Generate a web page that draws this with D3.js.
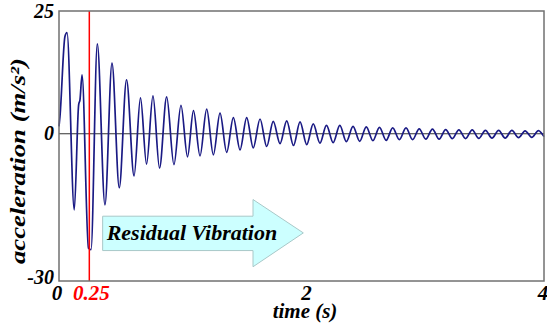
<!DOCTYPE html>
<html>
<head>
<meta charset="utf-8">
<script src="https://cdn.jsdelivr.net/npm/d3@7"></script>
<style>
  body { margin: 0; background: #fff; }
</style>
</head>
<body>
<svg id="chart" width="547" height="325"></svg>
<script>
// peaks and troughs (time in s, acceleration in m/s^2)
var timeS = [0.000, 0.008, 0.049, 0.066, 0.126, 0.162, 0.173, 0.190, 0.243, 0.264,
  0.316, 0.379, 0.437, 0.497, 0.557, 0.619, 0.672, 0.722, 0.775, 0.829,
  0.888, 0.948, 1.006, 1.060, 1.109, 1.163, 1.218, 1.273, 1.328, 1.383,
  1.438, 1.493, 1.548, 1.602, 1.658, 1.713, 1.767, 1.823, 1.878, 1.934,
  1.988, 2.043, 2.097, 2.152, 2.206, 2.261, 2.316, 2.370, 2.425, 2.480,
  2.534, 2.589, 2.643, 2.698, 2.752, 2.807, 2.862, 2.916, 2.971, 3.025,
  3.080, 3.135, 3.189, 3.244, 3.298, 3.353, 3.408, 3.462, 3.517, 3.571,
  3.626, 3.680, 3.735, 3.790, 3.844, 3.899, 3.954, 4.000];
var accel = [1.5, 3.5, 19.8, 20.6, -15.5, 5.9, 6.9, 12.0, -23.3, -23.6,
  18.3, -14.5, 14.4, -11.0, 11.0, -8.6, 7.3, -6.2, 7.7, -7.0,
  7.5, -6.3, 5.8, -4.7, 4.7, -4.5, 5.0, -4.3, 4.2, -3.8,
  3.3, -3.3, 3.3, -2.9, 3.0, -2.6, 2.5, -2.0, 2.6, -2.4,
  2.4, -2.2, 2.0, -1.9, 1.7, -1.8, 1.7, -1.6, 1.5, -1.55,
  1.4, -1.4, 1.3, -1.35, 1.2, -1.2, 1.2, -1.2, 1.0, -1.1,
  0.95, -1.1, 0.85, -1.0, 0.8, -1.0, 0.8, -0.95, 0.7, -0.9,
  0.7, -0.9, 0.7, -0.8, 0.6, -0.75, 0.65, -0.6];

var xTicks = [0, 2, 4];
var yTicks = [25, 0, -30];
var markTime = 0.25;
// arrow outline in data units: [time, accel]
var arrowPts = [[0.36, -16.8], [1.60, -16.8], [1.60, -13.4], [2.015, -20.2],
  [1.60, -27.1], [1.60, -23.8], [0.36, -23.8]];

var FONT = "Liberation Serif";
var svg = d3.select("#chart");
var pLeft = 59, pRight = 544, pTop = 11, pBottom = 281;

var x = d3.scaleLinear().domain([0, 4]).range([pLeft, pRight]);
var y = d3.scaleLinear().domain([-30, 25]).range([pBottom, pTop]);

function label(sel, size) {
  return sel.attr("font-family", FONT)
    .attr("font-weight", "bold")
    .attr("font-style", "italic")
    .attr("font-size", size);
}

svg.append("rect").attr("width", 547).attr("height", 325).attr("fill", "#fff");

// zero line
svg.append("line")
  .attr("x1", pLeft).attr("x2", pRight)
  .attr("y1", y(0)).attr("y2", y(0))
  .attr("stroke", "#333").attr("stroke-width", 1.2);

// signal
var line = d3.line()
  .x(function(d, i) { return x(timeS[i]); })
  .y(function(d) { return y(d); })
  .curve(d3.curveMonotoneX);

svg.append("path")
  .datum(accel)
  .attr("d", line)
  .attr("fill", "none")
  .attr("stroke", "#1a1a84")
  .attr("stroke-width", 1.7)
  .attr("stroke-linejoin", "round");

// red marker at 0.25 s
svg.append("line")
  .attr("x1", x(markTime)).attr("x2", x(markTime))
  .attr("y1", pTop).attr("y2", pBottom)
  .attr("stroke", "#ff0000").attr("stroke-width", 1.5);

// arrow
svg.append("polygon")
  .attr("points", arrowPts.map(function(p) { return x(p[0]) + "," + y(p[1]); }).join(" "))
  .attr("fill", "#ccffff")
  .attr("stroke", "#a8c8c8")
  .attr("stroke-width", 1);

label(svg.append("text"), 22)
  .attr("x", x(0.36) + 4).attr("y", 240)
  .attr("fill", "#000")
  .text("Residual Vibration");

// frame
svg.append("rect")
  .attr("x", pLeft).attr("y", pTop)
  .attr("width", pRight - pLeft).attr("height", pBottom - pTop)
  .attr("fill", "none")
  .attr("stroke", "#707070").attr("stroke-width", 1.5);

// y tick labels
label(svg.selectAll(".ylab")
  .data(yTicks)
  .enter().append("text")
  .attr("class", "ylab"), 20)
  .attr("x", 54)
  .attr("y", function(d) { return d == 25 ? y(d) + 7 : (d == -30 ? y(d) + 3 : y(d) + 6); })
  .attr("text-anchor", "end")
  .text(function(d) { return d; });

// x tick labels
label(svg.selectAll(".xlab")
  .data(xTicks)
  .enter().append("text")
  .attr("class", "xlab"), 21)
  .attr("x", function(d) { return d == 0 ? x(d) - 2 : (d == 4 ? x(d) - 1 : x(d) + 5); })
  .attr("y", 300)
  .attr("text-anchor", "middle")
  .text(function(d) { return d; });

label(svg.append("text"), 21)
  .attr("x", x(markTime) + 2).attr("y", 300)
  .attr("text-anchor", "middle")
  .attr("fill", "#ff0000")
  .text("0.25");

label(svg.append("text"), 21)
  .attr("x", 305).attr("y", 318)
  .attr("text-anchor", "middle")
  .text("time (s)");

label(svg.append("text"), 21)
  .attr("transform", "translate(25,161) rotate(-90)")
  .attr("text-anchor", "middle")
  .attr("textLength", 206)
  .attr("lengthAdjust", "spacingAndGlyphs")
  .text("acceleration (m/s²)");
</script>
</body>
</html>
